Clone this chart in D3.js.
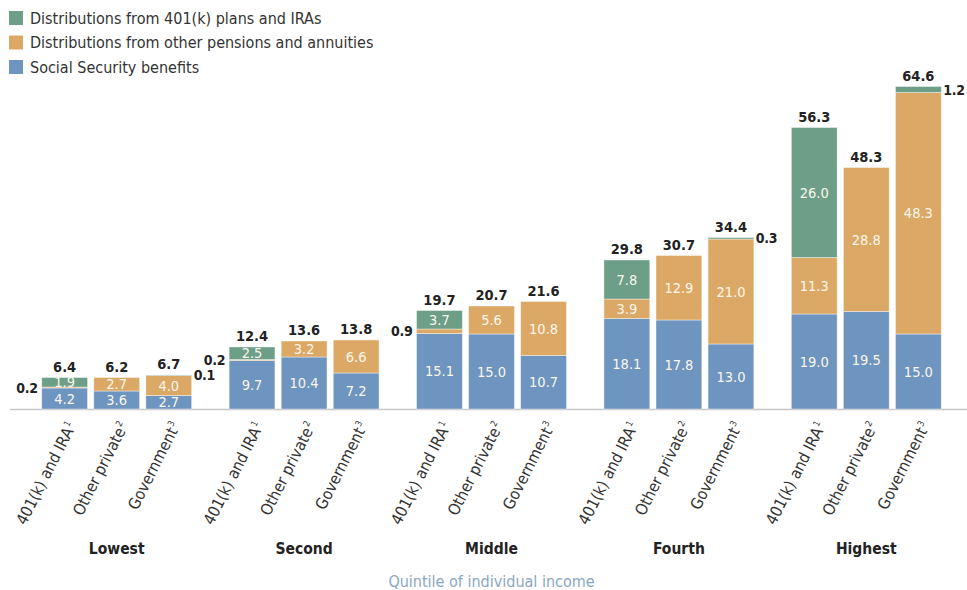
<!DOCTYPE html>
<html>
<head>
  <meta charset="utf-8">
  <title>Retirement income sources by quintile</title>
  <style>
    body { margin: 0; background: white; font-family: "DejaVu Sans Condensed", "DejaVu Sans", sans-serif; }
    .legend text { font-size: 16px; fill: #333; }
    .seg-label { font-size: 14.5px; fill: #fbf7ec; text-anchor: middle; }
    .total-label { font-size: 14.5px; font-weight: bold; fill: #222; text-anchor: middle; }
    .small-label { font-size: 14px; font-weight: bold; fill: #222; letter-spacing: -0.3px; }
    .tick-label { font-size: 16px; fill: #333; }
    .group-label { font-size: 15.5px; font-weight: bold; fill: #222; text-anchor: middle; }
    .axis-title { font-size: 16px; fill: #8aa7c0; text-anchor: middle; }
  </style>
  <script src="https://d3js.org/d3.v7.min.js"></script>
</head>
<body>
  <div id="chart"></div>
  <script>
    // categories
    const quintiles = ["Lowest", "Second", "Middle", "Fourth", "Highest"];
    const planTypes = ["401(k) and IRA", "Other private", "Government"];
    const planNotes = ["1", "2", "3"];

    // series values, one entry per bar (quintile x plan type, in order)
    const socialSecurity = [4.2, 3.6, 2.7, 9.7, 10.4, 7.2, 15.1, 15.0, 10.7, 18.1, 17.8, 13.0, 19.0, 19.5, 15.0];
    const otherPensions  = [0.2, 2.7, 4.0, 0.2, 3.2, 6.6, 0.9, 5.6, 10.8, 3.9, 12.9, 21.0, 11.3, 28.8, 48.3];
    const fromPlans      = [1.9, 0, 0.1, 2.5, 0, 0, 3.7, 0, 0, 7.8, 0, 0.3, 26.0, 0, 1.2];
    const totals         = [6.4, 6.2, 6.7, 12.4, 13.6, 13.8, 19.7, 20.7, 21.6, 29.8, 30.7, 34.4, 56.3, 48.3, 64.6];

    const seriesNames = ["Social Security benefits", "Distributions from other pensions and annuities", "Distributions from 401(k) plans and IRAs"];
    const seriesColors = ["#6e94c0", "#dca866", "#6d9e88"];

    const width = 967, height = 590;
    const svg = d3.select("#chart").append("svg")
      .attr("width", width)
      .attr("height", height);

    // build rows for the stack
    const rows = [];
    quintiles.forEach((q, qi) => {
      planTypes.forEach((p, pi) => {
        const i = qi * 3 + pi;
        rows.push({ quintile: q, plan: p, pi: pi, total: totals[i],
          ss: socialSecurity[i], other: otherPensions[i], plans: fromPlans[i] });
      });
    });
    const keys = ["ss", "other", "plans"];
    const stacked = d3.stack().keys(keys)(rows);

    // scales
    const x0 = d3.scaleBand().domain(quintiles).range([23, 960]).paddingInner(0.2).paddingOuter(0.1);
    const x1 = d3.scaleBand().domain(planTypes).range([0, x0.bandwidth()]).paddingInner(0.12);
    const y = d3.scaleLinear().domain([0, 64.6]).range([409, 86]);
    const barX = d => x0(d.data.quintile) + x1(d.data.plan);
    const inside = d => d[1] - d[0] >= 1.5;

    // baseline
    svg.append("line")
      .attr("x1", 10).attr("x2", width)
      .attr("y1", y(0) + 0.5).attr("y2", y(0) + 0.5)
      .attr("stroke", "#c8c8c8").attr("stroke-width", 1.5);

    // bars
    stacked.forEach((layer, li) => {
      const g = svg.append("g");
      g.selectAll("rect")
        .data(layer.filter(d => d[1] - d[0] > 0))
        .join("rect")
          .attr("x", barX)
          .attr("width", x1.bandwidth())
          .attr("y", d => y(d[1]))
          .attr("height", d => y(d[0]) - y(d[1]))
          .attr("fill", seriesColors[li])
          .attr("stroke", "white")
          .attr("stroke-opacity", 0.5)
          .attr("stroke-width", 0.8);

      // labels inside segments
      g.selectAll("text.seg-label")
        .data(layer.filter(inside))
        .join("text")
          .attr("class", "seg-label")
          .attr("x", d => barX(d) + x1.bandwidth() / 2)
          .attr("y", d => y((d[0] + d[1]) / 2))
          .attr("dy", "0.36em")
          .text(d => (d[1] - d[0]).toFixed(1));

      // thin segments labelled beside the bar
      g.selectAll("text.small-label")
        .data(layer.filter(d => d[1] - d[0] > 0 && !inside(d)))
        .join("text")
          .attr("class", "small-label")
          .attr("text-anchor", d => d.data.pi === 0 ? "end" : "start")
          .attr("x", d => d.data.pi === 0 ? barX(d) - 4 : barX(d) + x1.bandwidth() + 2)
          .attr("y", d => y((d[0] + d[1]) / 2))
          .attr("dy", "0.36em")
          .text(d => (d[1] - d[0]).toFixed(1));
    });

    // totals
    svg.append("g").selectAll("text")
      .data(stacked[2])
      .join("text")
        .attr("class", "total-label")
        .attr("x", d => barX(d) + x1.bandwidth() / 2)
        .attr("y", d => y(d[1]) - 6)
        .text(d => d.data.total.toFixed(1));

    // rotated plan type labels
    const ticks = svg.append("g").selectAll("text")
      .data(rows)
      .join("text")
        .attr("class", "tick-label")
        .attr("text-anchor", "end")
        .attr("transform", d => `translate(${x0(d.quintile) + x1(d.plan) + x1.bandwidth() / 2 + 7},${y(0) + 14}) rotate(-63)`)
        .attr("dy", "0.35em");
    ticks.append("tspan").text(d => d.plan);
    ticks.append("tspan")
      .attr("font-size", "9px")
      .attr("dy", "-0.7em")
      .attr("dx", "1")
      .text(d => planNotes[d.pi]);

    // quintile labels
    svg.append("g").selectAll("text")
      .data(quintiles)
      .join("text")
        .attr("class", "group-label")
        .attr("x", d => x0(d) + x0.bandwidth() / 2)
        .attr("y", 554)
        .text(d => d);

    svg.append("text")
      .attr("class", "axis-title")
      .attr("x", (x0("Lowest") + x0("Highest") + x0.bandwidth()) / 2)
      .attr("y", 587)
      .text("Quintile of individual income");

    // legend
    const legendOrder = [2, 1, 0];
    const legend = svg.append("g").attr("class", "legend")
      .selectAll("g")
      .data(legendOrder)
      .join("g")
        .attr("transform", (d, i) => `translate(9,${11 + i * 24.5})`);
    legend.append("rect")
      .attr("width", 14).attr("height", 14)
      .attr("fill", d => seriesColors[d]);
    legend.append("text")
      .attr("x", 21).attr("y", 7).attr("dy", "0.36em")
      .text(d => seriesNames[d]);
  </script>
</body>
</html>
